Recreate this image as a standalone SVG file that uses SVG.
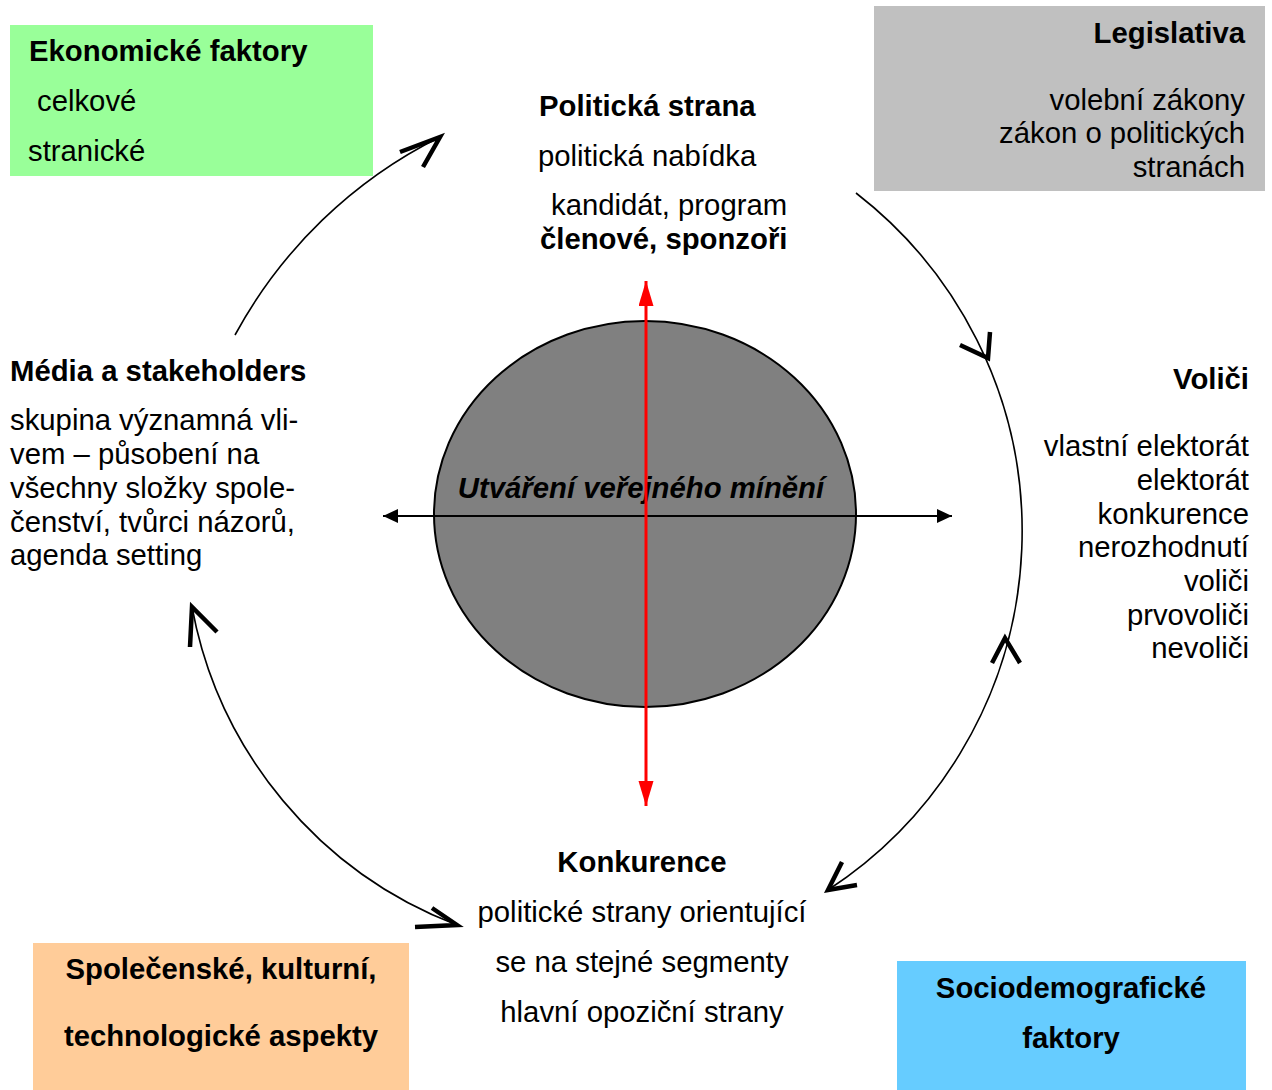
<svg xmlns="http://www.w3.org/2000/svg" width="1272" height="1090" viewBox="0 0 1272 1090">
<style>
.t{font-family:"Liberation Sans",Arial,Helvetica,sans-serif;font-size:29.3px;fill:#000}
.b{font-weight:bold}
.e{text-anchor:end}
.m{text-anchor:middle}
.arc{fill:none;stroke:#000;stroke-width:1.6}
.ah{fill:none;stroke:#000;stroke-width:4.5;stroke-linecap:butt;stroke-linejoin:miter}
</style>
<defs>
<marker id="blk" markerUnits="userSpaceOnUse" markerWidth="16" markerHeight="16" refX="15" refY="7" orient="auto-start-reverse">
<path d="M0,0 L15,7 L0,14 z" fill="#000"/>
</marker>
<marker id="red" markerUnits="userSpaceOnUse" markerWidth="26" markerHeight="16" refX="25" refY="7.5" orient="auto-start-reverse">
<path d="M0,0 L25,7.5 L0,15 z" fill="#f00"/>
</marker>
</defs>
<rect width="1272" height="1090" fill="#fff"/>

<g id="ekonomicke">
<rect x="10" y="25" width="363" height="151" fill="#99ff99"/>
<text class="t b" x="29" y="61">Ekonomické faktory</text>
<text class="t" x="37" y="111">celkové</text>
<text class="t" x="28" y="161">stranické</text>
</g>

<g id="legislativa">
<rect x="874" y="6" width="391" height="185" fill="#c0c0c0"/>
<text class="t b e" x="1245" y="43">Legislativa</text>
<text class="t e" x="1245" y="110">volební zákony</text>
<text class="t e" x="1245" y="143">zákon o politických</text>
<text class="t e" x="1245" y="177">stranách</text>
</g>

<g id="spolecenske">
<rect x="33" y="943" width="376" height="147" fill="#ffcc99"/>
<text class="t b m" x="221" y="979">Společenské, kulturní,</text>
<text class="t b m" x="221" y="1046">technologické aspekty</text>
</g>

<g id="sociodemograficke">
<rect x="897" y="961" width="349" height="129" fill="#66ccff"/>
<text class="t b m" x="1071" y="998">Sociodemografické</text>
<text class="t b m" x="1071" y="1048">faktory</text>
</g>

<g id="politicka-strana">
<text class="t b" x="539" y="116">Politická strana</text>
<text class="t" x="538" y="166">politická nabídka</text>
<text class="t" x="551" y="215">kandidát, program</text>
<text class="t b" x="540" y="249">členové, sponzoři</text>
</g>

<g id="volici">
<text class="t b e" x="1249" y="389">Voliči</text>
<text class="t e" x="1249" y="456">vlastní elektorát</text>
<text class="t e" x="1249" y="490">elektorát</text>
<text class="t e" x="1249" y="524">konkurence</text>
<text class="t e" x="1249" y="557">nerozhodnutí</text>
<text class="t e" x="1249" y="591">voliči</text>
<text class="t e" x="1249" y="625">prvovoliči</text>
<text class="t e" x="1249" y="658">nevoliči</text>
</g>

<g id="media">
<text class="t b" x="10" y="381">Média a stakeholders</text>
<text class="t" x="10" y="430">skupina významná vli-</text>
<text class="t" x="10" y="464">vem – působení na</text>
<text class="t" x="10" y="498">všechny složky spole-</text>
<text class="t" x="10" y="532">čenství, tvůrci názorů,</text>
<text class="t" x="10" y="565">agenda setting</text>
</g>

<g id="konkurence">
<text class="t b m" x="642" y="872">Konkurence</text>
<text class="t m" x="642" y="922">politické strany orientující</text>
<text class="t m" x="642" y="972">se na stejné segmenty</text>
<text class="t m" x="642" y="1022">hlavní opoziční strany</text>
</g>

<g id="verejne-mineni">
<ellipse cx="645" cy="514" rx="211" ry="193" fill="#808080" stroke="#000" stroke-width="2"/>
<text class="t b m" x="641" y="498" font-style="italic">Utváření veřejného mínění</text>
</g>

<g id="connectors">
<line x1="383" y1="516" x2="952" y2="516" stroke="#000" stroke-width="2" marker-start="url(#blk)" marker-end="url(#blk)"/>
<line x1="646" y1="281" x2="646" y2="806" stroke="#f00" stroke-width="3" marker-start="url(#red)" marker-end="url(#red)"/>
<path class="arc" d="M235,335 A473,473 0 0,1 440,137"/>
<polyline class="ah" points="400,152 440,137 423,167"/>
<path class="arc" d="M856,193 A428,428 0 0,1 828,890"/>
<polyline class="ah" points="990,332 988,358 960,345"/>
<polyline class="ah" points="992,663 1005,638 1020,663"/>
<polyline class="ah" points="842,862 828,890 857,885"/>
<path class="arc" d="M192,607 A423,423 0 0,0 457,925"/>
<polyline class="ah" points="190,647 192,607 217,632"/>
<polyline class="ah" points="415,927 457,925 432,908"/>
</g>
</svg>
